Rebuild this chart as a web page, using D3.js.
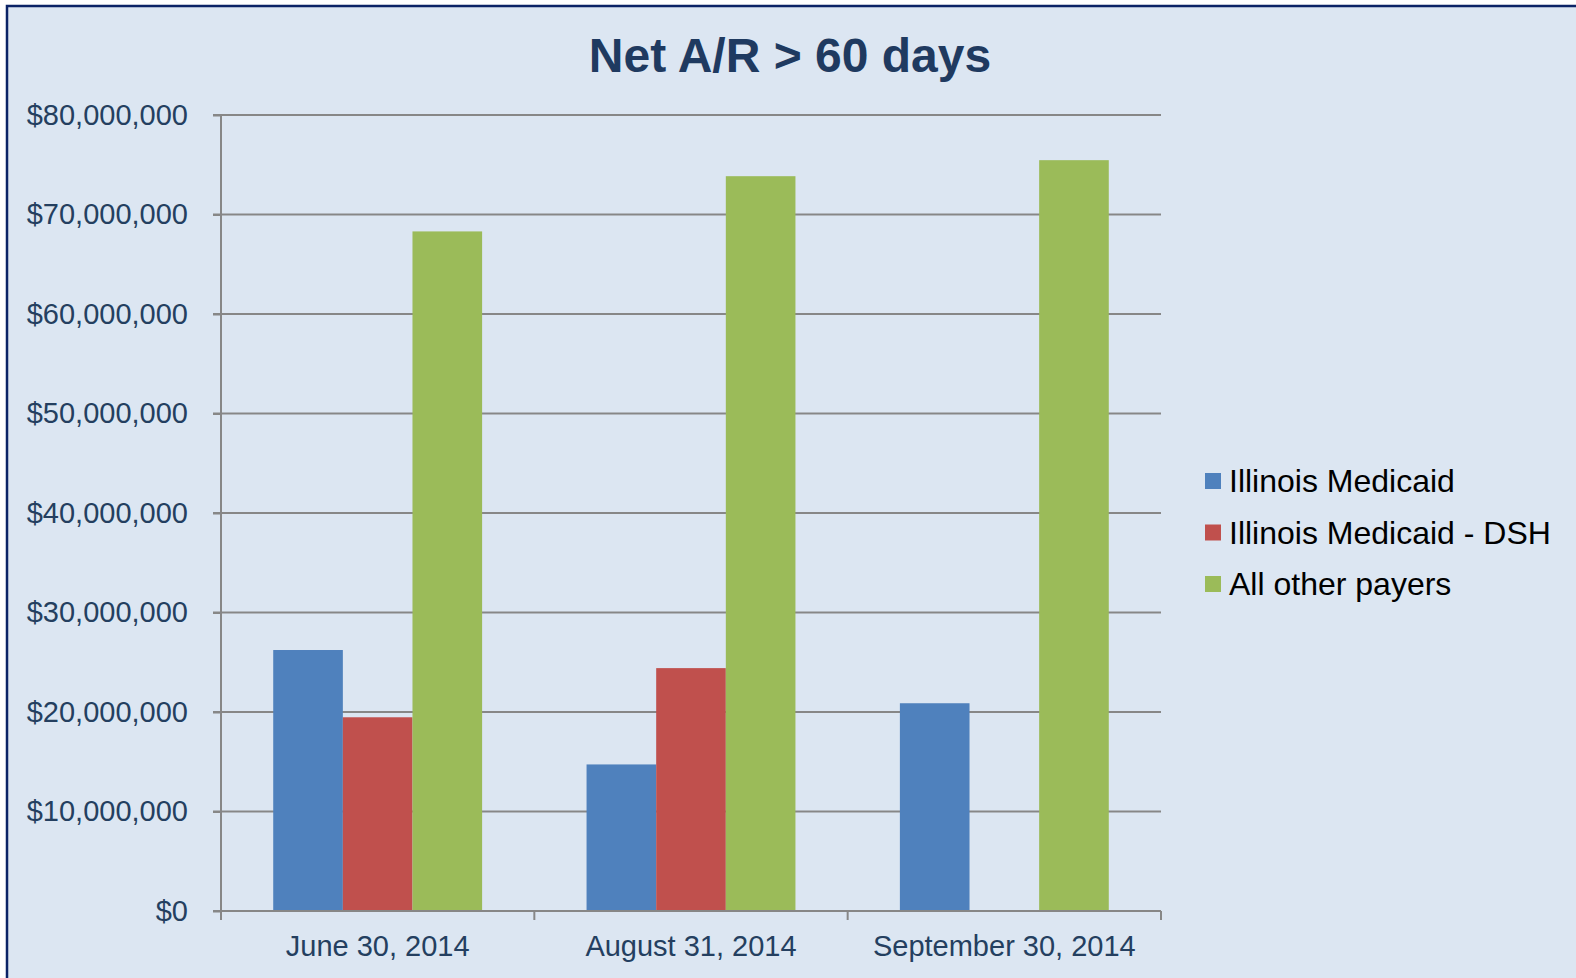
<!DOCTYPE html>
<html>
    <head>
        <style>
            body { margin: 0; background: #ffffff; }
        </style>
    </head>
    <body>
        <script src="https://d3js.org/d3.v7.min.js"></script>
        <svg id="mgSvg" width="1576" height="978"></svg>

        <script>
            // data
            const categories = ['June 30, 2014', 'August 31, 2014', 'September 30, 2014'];
            const seriesNames = ['Illinois Medicaid', 'Illinois Medicaid - DSH', 'All other payers'];
            const medicaid = [26230000, 14730000, 20880000];
            const medicaidDsh = [19470000, 24410000, 0];
            const otherPayers = [68300000, 73850000, 75460000];
            const yTicks = [0, 10000000, 20000000, 30000000, 40000000, 50000000, 60000000, 70000000, 80000000];
            const colors = ['#4f81bd', '#c0504d', '#9bbb59'];

            const seriesValues = [medicaid, medicaidDsh, otherPayers];
            const margin = {top: 115, right: 415, bottom: 67, left: 221};

            const svg = d3.select('body #mgSvg');
            const svgHeight = +svg.attr('height');
            const svgWidth = +svg.attr('width');
            const innerHeight = svgHeight - margin.top - margin.bottom;
            const innerWidth = svgWidth - margin.left - margin.right;

            // 背景和边框
            svg.append('rect')
               .attr('x', 7).attr('y', 6)
               .attr('width', svgWidth + 10).attr('height', svgHeight + 10)
               .attr('fill', '#dce6f2')
               .attr('stroke', '#0b2366')
               .attr('stroke-width', 2.5);

            const g = svg.append('g').attr('transform', `translate(${margin.left}, ${margin.top})`)
                                     .attr('id', 'mainGroup');

            // 坐标轴
            const xScale = d3.scaleBand()
                            .domain(categories)
                            .range([0, innerWidth]);
            const xInner = d3.scaleBand()
                            .domain(seriesNames)
                            .range([0, xScale.bandwidth()])
                            .paddingOuter(0.75)
                            .paddingInner(0);
            const yScale = d3.scaleLinear()
                            .domain([0, 80000000])
                            .range([innerHeight, 0]);

            // gridlines
            g.append('g')
             .selectAll('line')
             .data(yTicks.slice(1))
             .enter()
             .append('line')
             .attr('x1', -8)
             .attr('x2', innerWidth)
             .attr('y1', d => yScale(d))
             .attr('y2', d => yScale(d))
             .attr('stroke', '#878787')
             .attr('stroke-width', 2);

            const fmt = d => '$' + d3.format(',')(d);
            const yAxis = d3.axisLeft(yScale)
                            .tickValues(yTicks)
                            .tickFormat(fmt)
                            .tickSize(8)
                            .tickPadding(25);
            const yG = g.append('g').call(yAxis).attr('id', 'yAxis');

            // 填充数据
            const groups = g.append('g')
             .selectAll('.cat')
             .data(categories)
             .enter()
             .append('g')
             .attr('transform', d => `translate(${xScale(d)}, 0)`);

            groups.selectAll('rect')
             .data((d, i) => seriesNames.map((s, j) => ({name: s, value: seriesValues[j][i], color: colors[j]})))
             .enter()
             .append('rect')
             .attr('x', d => xInner(d.name))
             .attr('width', xInner.bandwidth())
             .attr('y', d => yScale(d.value))
             .attr('height', d => innerHeight - yScale(d.value))
             .attr('fill', d => d.color);

            const xAxis = d3.axisBottom(xScale)
                            .tickSize(0)
                            .tickPadding(20);
            const xG = g.append('g').call(xAxis).attr('transform', `translate(0, ${innerHeight})`).attr('id', 'xAxis');

            // category boundary ticks
            xG.selectAll('.bound')
              .data(d3.range(categories.length + 1))
              .enter()
              .append('line')
              .attr('x1', i => i * xScale.step())
              .attr('x2', i => i * xScale.step())
              .attr('y1', 0)
              .attr('y2', 9)
              .attr('stroke', '#878787')
              .attr('stroke-width', 2);

            // 设置坐标轴样式
            [yG, xG].forEach(a => {
                a.select('.domain').attr('stroke', '#878787').attr('stroke-width', 2);
                a.selectAll('.tick line').attr('stroke', '#878787').attr('stroke-width', 2);
                a.selectAll('.tick text')
                 .attr('font-family', 'Liberation Sans, Arial, sans-serif')
                 .attr('font-size', '29px')
                 .attr('fill', '#243f60');
            });
            yG.select('.domain').attr('d', `M0,0V${innerHeight}`);
            xG.select('.domain').attr('d', `M-8,0H${innerWidth}`);
            xG.selectAll('.tick text').attr('dy', '0.71em').attr('y', 24);

            // 设置标题
            svg.append('text')
             .text('Net A/R > 60 days')
             .attr('x', 790)
             .attr('y', 72)
             .attr('font-family', 'Liberation Sans, Arial, sans-serif')
             .attr('font-weight', 'bold')
             .attr('font-size', '48px')
             .attr('fill', '#1f3a60')
             .attr('text-anchor', 'middle');

            // legend
            const legend = svg.append('g')
              .selectAll('g')
              .data(seriesNames)
              .enter()
              .append('g')
              .attr('transform', (d, i) => `translate(1205, ${481 + i * 51.5})`);
            legend.append('rect')
              .attr('x', 0).attr('y', -8)
              .attr('width', 16).attr('height', 16)
              .attr('fill', (d, i) => colors[i]);
            legend.append('text')
              .text(d => d)
              .attr('x', 24)
              .attr('dy', '0.35em')
              .attr('font-family', 'Liberation Sans, Arial, sans-serif')
              .attr('font-size', '32px')
              .attr('fill', '#000000');
        </script>
    </body>
</html>
